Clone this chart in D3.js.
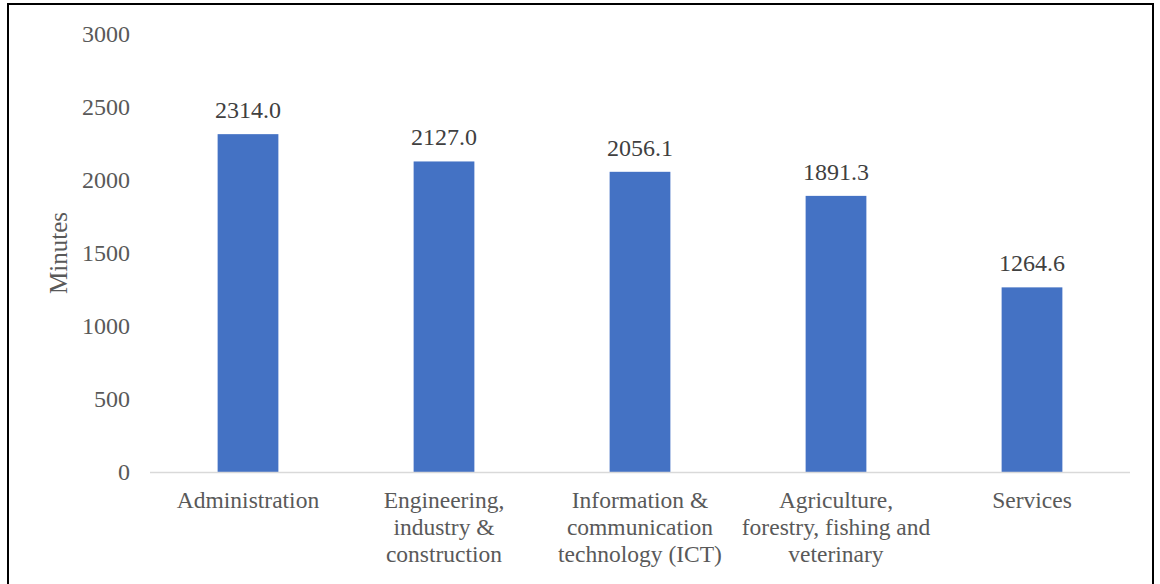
<!DOCTYPE html>
<html>
<head>
<meta charset="utf-8">
<script src="https://d3js.org/d3.v7.min.js"></script>
<style>
  body { margin: 0; background: #fff; }
</style>
</head>
<body>
<div id="chart"></div>
<script>
var categories = [
  ['Administration'],
  ['Engineering,', 'industry &', 'construction'],
  ['Information &', 'communication', 'technology (ICT)'],
  ['Agriculture,', 'forestry, fishing and', 'veterinary'],
  ['Services']
]
var values = [2314.0, 2127.0, 2056.1, 1891.3, 1264.6]
var yTicks = [0, 500, 1000, 1500, 2000, 2500, 3000]

var width = 1160, height = 584
var margin = { top: 34, bottom: 112, left: 150, right: 30 }
var serif = '"Liberation Serif", "Times New Roman", serif'

var svg = d3.select('#chart').append('svg').attr('width', width).attr('height', height)
  .style('font-family', serif)

// outer frame
svg.append('rect')
  .attr('x', 8).attr('y', 4)
  .attr('width', 1145).attr('height', 590)
  .attr('fill', 'none').attr('stroke', '#000').attr('stroke-width', 2)

var x = d3.scaleBand().domain(d3.range(values.length))
  .range([margin.left, width - margin.right]).paddingInner(0.69).paddingOuter(0.345)
var y = d3.scaleLinear().domain([0, 3000]).range([height - margin.bottom, margin.top])

// y axis labels
var yAxis = d3.axisLeft(y).tickValues(yTicks).tickFormat(d3.format('d')).tickSize(0).tickPadding(20)
var gy = svg.append('g').attr('transform', 'translate(' + margin.left + ',0)').call(yAxis)
gy.attr('font-family', null)
gy.select('.domain').remove()
gy.selectAll('text')
  .attr('font-size', 24).attr('fill', '#595959')
  .style('font-family', serif)

// bars
svg.selectAll('rect.bar').data(values).enter()
  .append('rect').classed('bar', true)
  .attr('x', (d, i) => x(i))
  .attr('y', d => y(d))
  .attr('width', x.bandwidth())
  .attr('height', d => y(0) - y(d))
  .attr('fill', '#4472C4')

// x axis line
svg.append('line')
  .attr('x1', margin.left).attr('x2', width - margin.right)
  .attr('y1', y(0) + 0.5).attr('y2', y(0) + 0.5)
  .attr('stroke', '#D9D9D9').attr('stroke-width', 1.5)

// value labels
svg.selectAll('text.value').data(values).enter()
  .append('text').classed('value', true)
  .attr('x', (d, i) => x(i) + x.bandwidth() / 2)
  .attr('y', d => y(d) - 16)
  .attr('text-anchor', 'middle')
  .attr('font-size', 24)
  .attr('fill', '#404040')
  .style('font-family', serif)
  .text(d => d.toFixed(1))

// category labels
var cat = svg.selectAll('text.cat').data(categories).enter()
  .append('text').classed('cat', true)
  .attr('text-anchor', 'middle')
  .attr('font-size', 23.5)
  .attr('fill', '#595959')
  .style('font-family', serif)
cat.selectAll('tspan').data((d, i) => d.map(t => ({ t: t, i: i }))).enter()
  .append('tspan')
  .attr('x', d => x(d.i) + x.bandwidth() / 2)
  .attr('y', (d, k) => y(0) + 36 + k * 27)
  .style('font-family', serif)
  .text(d => d.t)

// y title
svg.append('text')
  .attr('transform', 'translate(67,' + (margin.top + y(0)) / 2 + ') rotate(-90)')
  .attr('text-anchor', 'middle')
  .attr('font-size', 25)
  .attr('fill', '#595959')
  .style('font-family', serif)
  .text('Minutes')
</script>
</body>
</html>
